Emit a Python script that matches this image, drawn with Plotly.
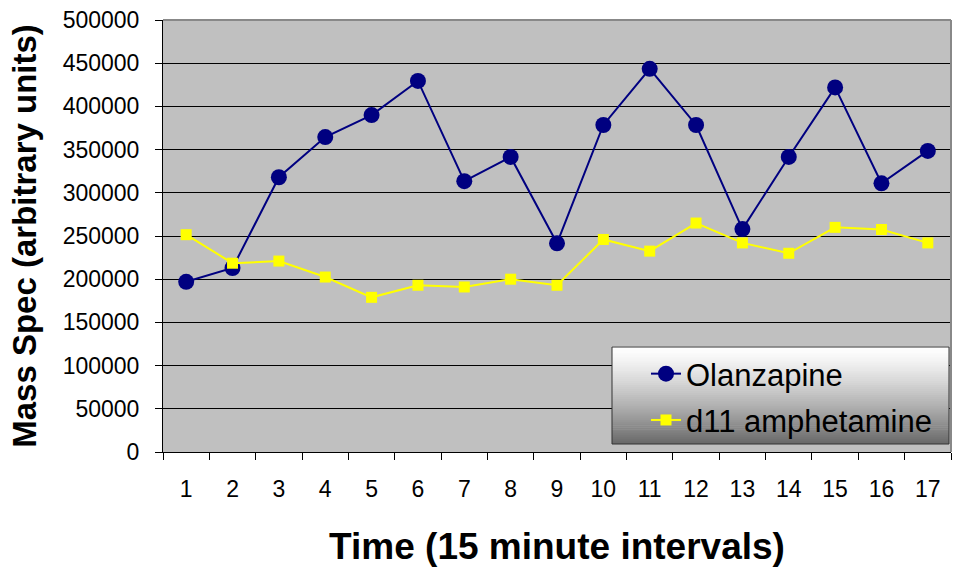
import plotly.graph_objects as go

intervals = [str(i) for i in range(1, 18)]
olanzapine = [197000, 213000, 318000, 364500, 390000, 429500, 313500, 341500, 241500,
              378500, 443500, 378500, 258000, 341500, 422000, 311000, 348500]
d11_amphetamine = [251500, 218500, 221000, 202500, 179000, 193000, 191000, 200000, 193000,
                   246000, 232500, 265000, 242000, 230000, 260000, 257500, 242000]

W, H = 959, 569
L, R, T, B = 163, 8, 20, 117
PW, PH = W - L - R, H - T - B

def px2fx(x):
    return (x - L) / PW

def px2fy(y):
    return (H - B - y) / PH

font_family = "Liberation Sans, Arial, sans-serif"

fig = go.Figure()
fig.add_trace(go.Scatter(
    x=intervals, y=olanzapine, name="Olanzapine", mode="lines+markers",
    line=dict(color="#000080", width=2),
    marker=dict(symbol="circle", size=16, color="#000080"),
    legendgroup="a"))
fig.add_trace(go.Scatter(
    x=intervals, y=d11_amphetamine, name="d11 amphetamine", mode="lines+markers",
    line=dict(color="#FFFF00", width=2),
    marker=dict(symbol="square", size=11, color="#FFFF00"),
    legendgroup="b"))

shapes = []
# gradient legend box
lx0, lx1, ly0, ly1 = 612, 949, 347, 444
n = 48
for i in range(n):
    t = (i + 0.5) / n
    g = int(round(255 - 150 * t ** 1.3))
    y0 = ly0 + (ly1 - ly0) * i / n
    y1 = ly0 + (ly1 - ly0) * (i + 1) / n
    shapes.append(dict(type="rect", xref="paper", yref="paper",
                       x0=px2fx(lx0), x1=px2fx(lx1), y0=px2fy(y1), y1=px2fy(y0) + 0.001,
                       fillcolor=f"rgb({g},{g},{g})", line=dict(width=0), layer="above"))
shapes.append(dict(type="rect", xref="paper", yref="paper",
                   x0=px2fx(lx0), x1=px2fx(lx1), y0=px2fy(ly1), y1=px2fy(ly0),
                   fillcolor="rgba(0,0,0,0)", line=dict(color="#333333", width=1), layer="above"))
# gray top and right frame
shapes.append(dict(type="line", xref="paper", yref="paper", x0=0, x1=1, y0=1, y1=1,
                   line=dict(color="#888888", width=2), layer="above"))
shapes.append(dict(type="line", xref="paper", yref="paper", x0=1, x1=1, y0=0, y1=1,
                   line=dict(color="#888888", width=2), layer="above"))

fig.update_layout(
    width=W, height=H,
    margin=dict(l=L, r=R, t=T, b=B, autoexpand=False),
    paper_bgcolor="white", plot_bgcolor="#C0C0C0",
    font=dict(family=font_family, color="black", size=23),
    shapes=shapes,
    showlegend=True,
    legend=dict(x=px2fx(646), y=px2fy(347), xanchor="left", yanchor="top",
                bgcolor="rgba(0,0,0,0)", borderwidth=0,
                font=dict(size=31, family=font_family, color="black"),
                tracegroupgap=3, itemsizing="trace"),
    xaxis=dict(type="category", tickson="boundaries", ticks="outside", ticklen=7,
               tickcolor="black", tickwidth=1, showline=True, linecolor="black", linewidth=1,
               showgrid=False, tickfont=dict(size=23), ticklabelstandoff=16,
               title=dict(text="<b>Time (15 minute intervals)</b>", font=dict(size=37), standoff=32),
               range=[-0.5, 16.5], fixedrange=True),
    yaxis=dict(range=[0, 500000], dtick=50000, tick0=0, ticks="outside", ticklen=7,
               tickcolor="black", tickwidth=1, showline=True, linecolor="black", linewidth=1,
               showgrid=True, gridcolor="black", gridwidth=1, zeroline=False,
               tickfont=dict(size=23), ticklabelstandoff=11, tickformat="d",
               title=dict(text="<b>Mass Spec (arbitrary units)</b>", font=dict(size=33), standoff=16),
               fixedrange=True),
)

fig.write_html("out.html")
